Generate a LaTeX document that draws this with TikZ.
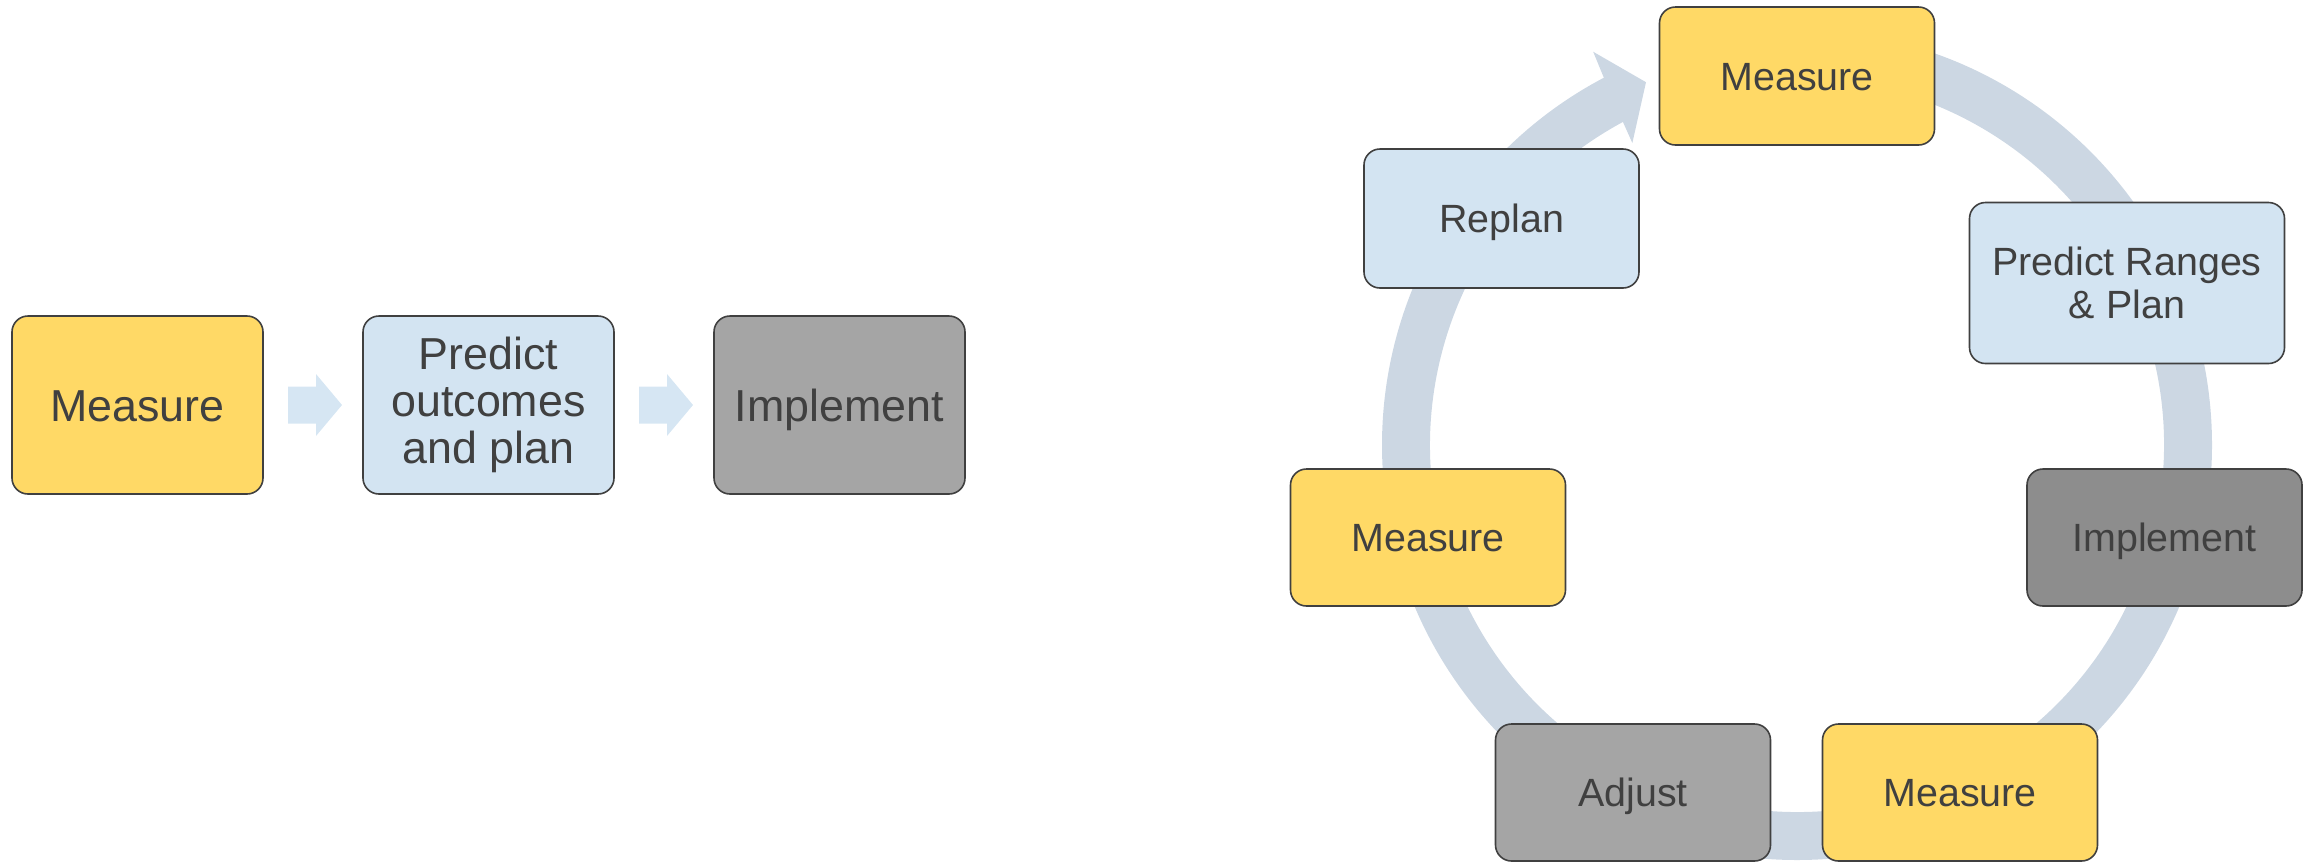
\documentclass[tikz,border=0pt]{standalone}
\usepackage{fontspec}
\setmainfont{Liberation Sans}
\usetikzlibrary{calc}
\definecolor{gold}{HTML}{FFD966}
\definecolor{paleblue}{HTML}{D3E4F2}
\definecolor{midgrey}{HTML}{A5A5A5}
\definecolor{darkgrey}{HTML}{8D8D8D}
\definecolor{ringcol}{HTML}{CCD7E3}
\definecolor{arrowcol}{HTML}{D6E6F3}
\definecolor{ink}{HTML}{404040}
\begin{document}
\begin{tikzpicture}[x=0.5pt,y=-0.5pt,
  box/.style={rectangle,rounded corners=8pt,draw=ink,line width=0.8pt,
    text=ink,align=center,inner sep=0pt},
  bigbox/.style={box,minimum width=125.5pt,minimum height=89pt,
    font=\fontsize{22.4}{23.7}\selectfont},
  cyc/.style={box,minimum width=137.5pt,minimum height=68.5pt,
    font=\fontsize{19.7}{21.8}\selectfont},
  % single-line labels are centred on their capital letters
  bigline/.style={text height=16pt,text depth=0pt},
  cycline/.style={text height=14.1pt,text depth=0pt},
  blockarrow/.style={fill=arrowcol},
]
\useasboundingbox (0,0) rectangle (2313,864);

% linear process
\node[bigbox,bigline,fill=gold]    (m1) at (137.5,405) {Measure};
\node[bigbox,fill=paleblue]        (p1) at (488.5,405) {Predict\\outcomes\\and plan};
\node[bigbox,bigline,fill=midgrey] (i1) at (839.5,405) {Implement};

\path (m1.east) -- (p1.west) coordinate[pos=0.5] (a1);
\path (p1.east) -- (i1.west) coordinate[pos=0.5] (a2);
\foreach \a in {a1,a2}
  \fill[blockarrow,shift={(\a)}] (-25,-18.5) -- (3,-18.5) -- (3,-31) -- (29,0)
    -- (3,31) -- (3,18.5) -- (-25,18.5) -- cycle;

% cycle ring with arrowhead
\coordinate (c) at (1797,445);
\fill[ringcol] ($(c)+(-90:415)$) arc[start angle=-90,end angle=242.26,radius=415]
  -- ($(c)+(242.6:443)$) -- ($(c)+(247.4:393)$) -- ($(c)+(241.4:344)$)
  -- ($(c)+(241.68:367)$) arc[start angle=241.68,end angle=-90,radius=367] -- cycle;

% cycle steps
\node[cyc,cycline,fill=gold,minimum height=69pt] (top) at (1797,76) {Measure};
\node[cyc,cycline,fill=paleblue,minimum height=69.5pt] (rep) at (1501.5,218.5) {Replan};
\node[cyc,fill=paleblue,minimum width=157.5pt,minimum height=80.5pt] (pr) at (2127,283) {Predict Ranges\\\& Plan};
\node[cyc,cycline,fill=darkgrey] (imp) at (2164.5,537.5) {Implement};
\node[cyc,cycline,fill=gold]     (mb)  at (1960,792.5) {Measure};
\node[cyc,cycline,fill=midgrey]  (adj) at (1633,792.5) {Adjust};
\node[cyc,cycline,fill=gold]     (ml)  at (1428,537.5) {Measure};
\end{tikzpicture}
\end{document}
